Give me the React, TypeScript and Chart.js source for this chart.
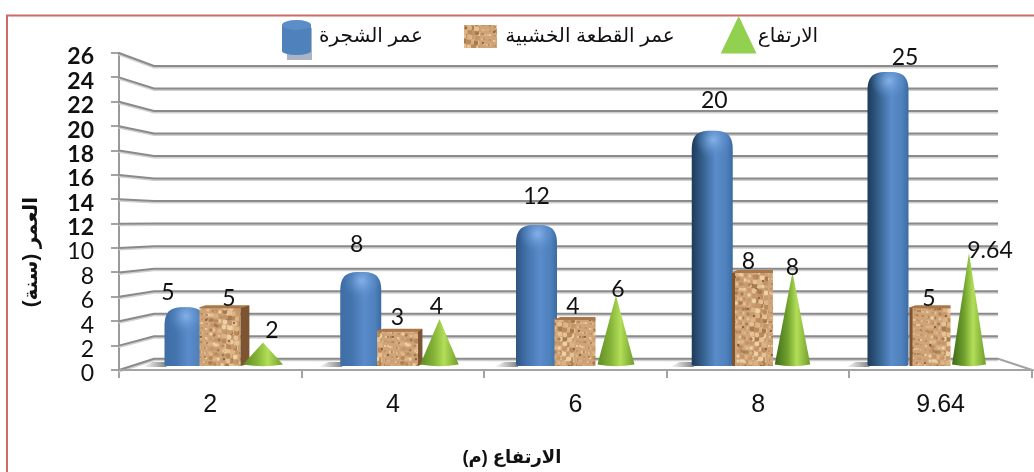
import React, { useEffect, useRef } from "react";
import { Chart, registerables } from "chart.js";

Chart.register(...registerables);

// Chart values
const heightLabels = ["2", "4", "6", "8", "9.64"];
const treeAge = [5, 8, 12, 20, 25];
const woodAge = [5, 3, 4, 8, 5];
const heightValues = [2, 4, 6, 8, 9.64];
const seriesNames = ["عمر الشجرة", "عمر القطعة الخشبية", "الارتفاع"];
const xTitle = "الارتفاع (م)";
const yTitle = "العمر (سنة)";

// Fine placement of each value label relative to the top of its mark
const labelNudge = [
  [[-17, -15], [-4, -27], [0, -28], [2, -30], [17, -14]],
  [[9, -9], [0, -13], [-2, -12], [-4, -10], [-1, -9]],
  [[9, -12], [-3, -12], [2, -6], [0, -4], [21, -2]],
];

const PLOT_LEFT = 119;
const PLOT_RIGHT = 1032;
const WALL_LEFT = 154;
const WALL_RIGHT = 998;
const MID_X = 575;
const GRID = "#8a8a8a";

// Hidden axis placing one series' marks on the receding plane of the box
const planeAxis = (first: number, step: number) => ({
  type: "linear",
  display: false,
  offset: false,
  min: (PLOT_LEFT - first) / step,
  max: (PLOT_RIGHT - first) / step,
});

// Cork surface, built from a small deterministic hash
function corkPattern(ctx: CanvasRenderingContext2D) {
  const c = document.createElement("canvas");
  c.width = 96;
  c.height = 96;
  const g = c.getContext("2d")!;
  g.fillStyle = "#cfa478";
  g.fillRect(0, 0, 96, 96);
  const shades = ["#e4c296", "#b98a5a", "#dcb384", "#c79a6c", "#ecd0a6", "#c4946a", "#a87a4c"];
  g.filter = "blur(0.7px)";
  for (let i = 0; i < 900; i++) {
    const a = Math.imul(i + 1, 2654435761) >>> 0;
    const b = Math.imul(i + 7, 40503) >>> 0;
    const r = 1 + ((a >>> 7) % 3) * 0.7;
    g.fillStyle = shades[(a >>> 11) % shades.length];
    g.beginPath();
    g.arc((a >>> 3) % 96, (b >>> 5) % 96, r, 0, Math.PI * 2);
    g.fill();
  }
  g.fillStyle = "#7f5230";
  for (let i = 0; i < 22; i++) {
    const a = Math.imul(i + 31, 2654435761) >>> 0;
    const b = Math.imul(i + 97, 40503) >>> 0;
    g.beginPath();
    g.arc((a >>> 5) % 96, (b >>> 6) % 96, 1, 0, Math.PI * 2);
    g.fill();
  }
  return ctx.createPattern(c, "repeat")!;
}

function cylinder(ctx: CanvasRenderingContext2D, x: number, top: number, base: number, w: number, i: number) {
  const left = x - w / 2;
  const r = w / 2;
  // Shading deepens on the left side as the column moves right
  const depth = i / 4;
  const grad = ctx.createLinearGradient(left, 0, left + w, 0);
  grad.addColorStop(0, depth > 0.6 ? "#1f3a5a" : depth > 0.3 ? "#2f5583" : "#3f6ea6");
  grad.addColorStop(0.28, depth > 0.6 ? "#35628f" : "#4474ad");
  grad.addColorStop(0.58, "#5a8ccb");
  grad.addColorStop(0.85, "#4e80bb");
  grad.addColorStop(1, "#3c6ba3");
  ctx.fillStyle = grad;
  ctx.beginPath();
  ctx.moveTo(left, base - 2);
  ctx.lineTo(left, top + r * 0.9);
  ctx.bezierCurveTo(left, top + 2, left + r * 0.4, top, x, top);
  ctx.bezierCurveTo(left + w - r * 0.4, top, left + w, top + 2, left + w, top + r * 0.9);
  ctx.lineTo(left + w, base - 2);
  ctx.quadraticCurveTo(left + w, base, left + w - 3, base);
  ctx.lineTo(left + 3, base);
  ctx.quadraticCurveTo(left, base, left, base - 2);
  ctx.closePath();
  ctx.fill();
  ctx.save();
  ctx.clip();
  const glow = ctx.createRadialGradient(x + 1, top + 9, 1, x + 1, top + 9, w * 0.45);
  glow.addColorStop(0, "rgba(130,175,230,0.95)");
  glow.addColorStop(1, "rgba(90,140,203,0)");
  ctx.fillStyle = glow;
  ctx.fillRect(left, top, w, w);
  ctx.restore();
}

function corkBox(ctx: CanvasRenderingContext2D, cork: CanvasPattern, x: number, top: number, base: number, w: number) {
  const left = x - w / 2;
  const right = x + w / 2;
  const skew = (MID_X - x) * 0.025;
  ctx.fillStyle = cork;
  ctx.fillRect(left, top, w, base - top);
  ctx.fillStyle = "#7d5431";
  ctx.beginPath();
  if (skew > 0) {
    ctx.moveTo(right, top);
    ctx.lineTo(right + skew, top - 2);
    ctx.lineTo(right + skew, base - 2);
    ctx.lineTo(right, base);
  } else {
    const s = Math.min(-skew, 3);
    ctx.moveTo(left, top);
    ctx.lineTo(left + s, top);
    ctx.lineTo(left + s, base);
    ctx.lineTo(left, base);
  }
  ctx.closePath();
  ctx.fill();
  ctx.fillStyle = "#a8784a";
  ctx.beginPath();
  ctx.moveTo(left, top);
  ctx.lineTo(left + 6, top - 2);
  ctx.lineTo(right + Math.max(skew, 0), top - 2);
  ctx.lineTo(right, top + 1);
  ctx.lineTo(left, top + 1);
  ctx.closePath();
  ctx.fill();
}

function cone(ctx: CanvasRenderingContext2D, x: number, top: number, base: number, i: number) {
  // Cones narrow slightly toward the far end of the plane and darken on the left
  const w = 40 - ((x - 263) / 706) * 6;
  const left = x - w / 2;
  const grad = ctx.createLinearGradient(left, 0, left + w, 0);
  grad.addColorStop(0, i > 2 ? "#3f6a18" : "#5f8a24");
  grad.addColorStop(0.35, i > 2 ? "#6f9f2c" : "#84b338");
  grad.addColorStop(0.62, "#b2de58");
  grad.addColorStop(1, "#6f9c2a");
  ctx.fillStyle = grad;
  ctx.beginPath();
  ctx.moveTo(x, top);
  ctx.lineTo(left + w, base - 1.5);
  ctx.quadraticCurveTo(x, base + 2, left, base - 1.5);
  ctx.closePath();
  ctx.fill();
}

const boxPlugin = {
  id: "box3d",
  beforeDraw(chart: any) {
    const ctx = chart.ctx;
    // Frame round the whole figure
    ctx.save();
    ctx.strokeStyle = "#cf6a6a";
    ctx.lineWidth = 2;
    ctx.strokeRect(7, 15.5, 1100, 600);
    ctx.restore();
  },
  beforeDatasetsDraw(chart: any) {
    const ctx = chart.ctx;
    const { y, yWall, yBar } = chart.scales;
    ctx.save();
    // Floor of the box
    const fy = y.getPixelForValue(0);
    const by = yWall.getPixelForValue(0);
    ctx.fillStyle = "#ffffff";
    ctx.beginPath();
    ctx.moveTo(PLOT_LEFT, fy);
    ctx.lineTo(WALL_LEFT, by);
    ctx.lineTo(WALL_RIGHT, by);
    ctx.lineTo(PLOT_RIGHT, fy);
    ctx.closePath();
    ctx.fill();
    // Wall and side gridlines with their soft lower edge
    for (const t of y.ticks) {
      const a = y.getPixelForValue(t.value);
      const b = yWall.getPixelForValue(t.value);
      for (const [off, col] of [[1.5, "#d0d0d0"], [0, GRID]] as [number, string][]) {
        ctx.strokeStyle = col;
        ctx.lineWidth = 2;
        ctx.beginPath();
        ctx.moveTo(PLOT_LEFT, a + off);
        ctx.lineTo(WALL_LEFT, b + off);
        ctx.lineTo(WALL_RIGHT, b + off);
        ctx.stroke();
      }
    }
    ctx.strokeStyle = "#a3a3a3";
    ctx.lineWidth = 2;
    ctx.beginPath();
    ctx.moveTo(WALL_RIGHT, by);
    ctx.lineTo(PLOT_RIGHT, fy);
    ctx.lineTo(PLOT_LEFT, fy);
    ctx.stroke();
    // Cast shadows beside the tree columns
    const base = yBar.getPixelForValue(0);
    for (const el of chart.getDatasetMeta(0).data) {
      const left = el.x - el.width / 2;
      const g = ctx.createLinearGradient(left - 22, 0, left, 0);
      g.addColorStop(0, "rgba(130,130,130,0)");
      g.addColorStop(1, "rgba(120,120,120,0.85)");
      ctx.fillStyle = g;
      ctx.beginPath();
      ctx.moveTo(left - 22, base + 1);
      ctx.lineTo(left - 12, base - 4);
      ctx.lineTo(left + 2, base - 4);
      ctx.lineTo(left + 2, base + 1);
      ctx.closePath();
      ctx.fill();
    }
    ctx.restore();
  },
  afterDatasetsDraw(chart: any) {
    const ctx = chart.ctx;
    const cork = corkPattern(ctx);
    ctx.save();
    chart.getDatasetMeta(0).data.forEach((el: any, i: number) => {
      cylinder(ctx, el.x, el.y, el.base, el.width, i);
    });
    chart.getDatasetMeta(1).data.forEach((el: any) => {
      corkBox(ctx, cork, el.x, el.y, el.base, el.width);
    });
    chart.getDatasetMeta(2).data.forEach((el: any, i: number) => {
      cone(ctx, el.x, el.y, el.base, i);
    });

    // Value labels
    ctx.fillStyle = "#111111";
    ctx.font = "23px Lato, 'Liberation Sans', sans-serif";
    ctx.textAlign = "center";
    ctx.textBaseline = "middle";
    chart.data.datasets.forEach((ds: any, d: number) => {
      chart.getDatasetMeta(d).data.forEach((el: any, i: number) => {
        const [dx, dy] = labelNudge[d][i];
        ctx.fillText(String(ds.data[i].y), el.x + dx, el.y + dy);
      });
    });

    // Legend
    const names = chart.data.datasets.map((ds: any) => ds.label);
    ctx.direction = "rtl";
    ctx.textAlign = "center";
    ctx.font = "20px 'Liberation Sans', 'DejaVu Sans', sans-serif";
    ctx.fillStyle = "#111111";
    ctx.fillText(names[0], 371, 36);
    ctx.fillText(names[1], 590, 36);
    ctx.fillText(names[2], 788, 36);
    ctx.direction = "ltr";

    // Legend keys
    ctx.fillStyle = "#aab4c4";
    ctx.fillRect(287, 28, 25, 32);
    ctx.fillStyle = "#4f81bd";
    ctx.beginPath();
    ctx.ellipse(296.5, 51, 14.5, 4, 0, 0, Math.PI * 2);
    ctx.fill();
    ctx.fillRect(282, 25, 29, 26);
    ctx.fillStyle = "#5b8ec9";
    ctx.beginPath();
    ctx.ellipse(296.5, 25, 14.5, 5, 0, 0, Math.PI * 2);
    ctx.fill();
    ctx.fillStyle = cork;
    ctx.fillRect(464, 25, 33, 23);
    ctx.fillStyle = "#92d050";
    ctx.beginPath();
    ctx.moveTo(738.7, 16);
    ctx.lineTo(756.5, 53.5);
    ctx.lineTo(720.7, 53.5);
    ctx.closePath();
    ctx.fill();

    // Axis titles
    ctx.fillStyle = "#111111";
    ctx.direction = "rtl";
    ctx.font = "bold 18px 'Liberation Sans', 'DejaVu Sans', sans-serif";
    ctx.fillText(xTitle, 512, 458);
    ctx.translate(31, 252);
    ctx.rotate(-Math.PI / 2);
    ctx.font = "bold 20px 'Liberation Sans', 'DejaVu Sans', sans-serif";
    ctx.fillText(yTitle, 0, 0);
    ctx.restore();
  },
};

export default function App() {
  const ref = useRef<HTMLCanvasElement>(null);

  useEffect(() => {
    document.body.style.margin = "0";
    const series = [treeAge, woodAge, heightValues];
    const axes = ["xBlue", "xCork", "xCone"];
    const chart = new Chart(ref.current!, {
      type: "bar",
      data: {
        labels: heightLabels,
        datasets: series.map((vals, d) => ({
          label: seriesNames[d],
          data: vals.map((y, x) => ({ x, y })),
          xAxisID: axes[d],
          yAxisID: "yBar",
          grouped: false,
          barThickness: 41,
          backgroundColor: "rgba(0,0,0,0)",
          borderWidth: 0,
        })),
      },
      plugins: [boxPlugin],
      options: {
        animation: false,
        responsive: false,
        layout: { padding: { top: 53, right: 2, left: 0, bottom: 0 } },
        plugins: { legend: { display: false }, tooltip: { enabled: false } },
        scales: {
          x: {
            type: "category",
            offset: true,
            afterFit: (s: any) => {
              s.height = 102;
            },
            grid: {
              offset: true,
              drawOnChartArea: false,
              tickLength: 8,
              color: "#a3a3a3",
              lineWidth: 2,
            },
            border: { display: false },
            ticks: {
              maxRotation: 0,
              padding: 12,
              color: "#111111",
              font: { family: "'Liberation Sans', sans-serif", size: 25 },
            },
          },
          y: {
            type: "linear",
            min: 0,
            max: 26,
            afterFit: (s: any) => {
              s.width = 119;
            },
            grid: {
              drawOnChartArea: false,
              tickLength: 8,
              color: "#a3a3a3",
              lineWidth: 2,
            },
            border: { display: true, color: "#9a9a9a", width: 2 },
            ticks: {
              stepSize: 2,
              padding: 17,
              autoSkip: false,
              labelOffset: 4,
              color: "#111111",
              font: (c: any) => ({
                family: "Lato, sans-serif",
                size: 23,
                weight: c.tick && c.tick.value >= 12 ? "bold" : "normal",
              }),
            },
          },
          xBlue: planeAxis(185, 175.75),
          xCork: planeAxis(220, 177.5),
          xCone: planeAxis(263, 176.5),
          yBar: { type: "linear", display: false, min: -0.34, max: 26.62 },
          yWall: { type: "linear", display: false, min: -1.0, max: 27.15 },
        },
      } as any,
    } as any);
    return () => chart.destroy();
  }, []);

  return <canvas ref={ref} width={1034} height={472} style={{ display: "block" }} />;
}
